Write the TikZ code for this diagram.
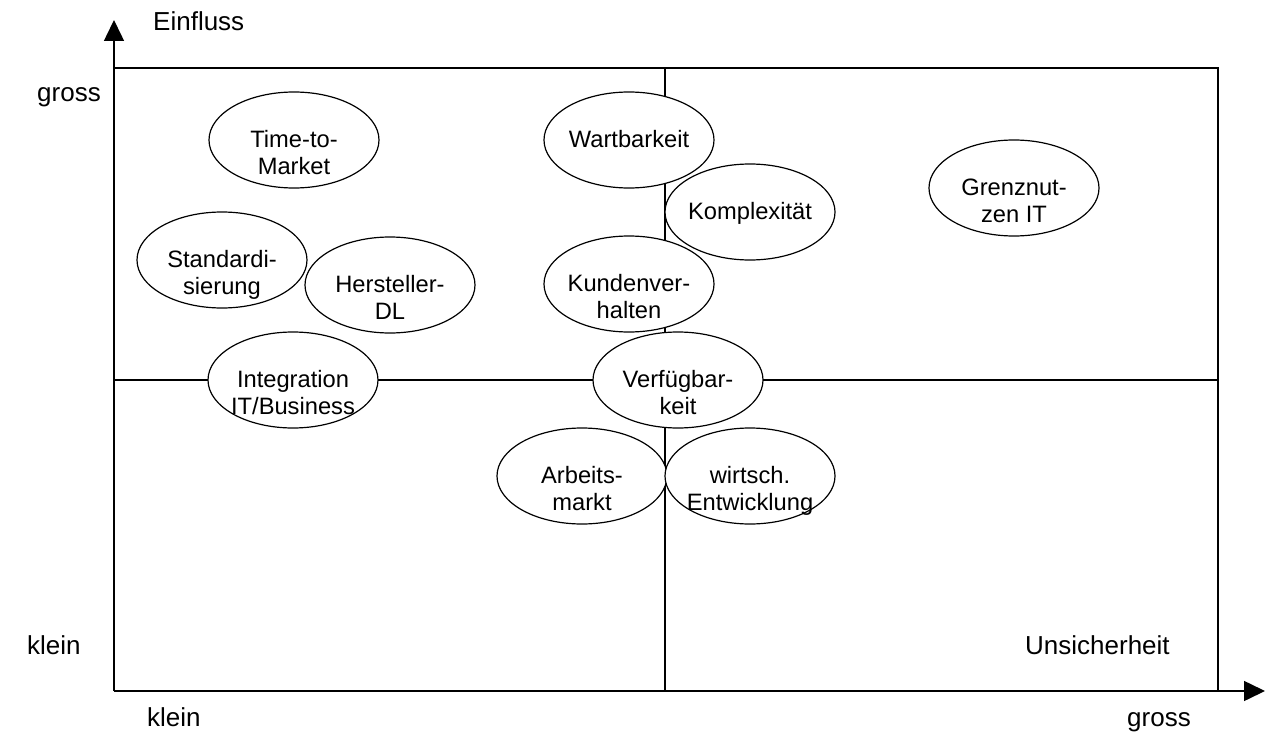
\documentclass[tikz,border=0pt]{standalone}
\usepackage{fontspec}
\setmainfont{Liberation Sans}
\usetikzlibrary{shapes.geometric,arrows.meta}
\newcommand\bubblefont{\fontsize{23.7}{27}\selectfont}
\newcommand\axisfont{\fontsize{26}{30}\selectfont}
\begin{document}
\begin{tikzpicture}[x=1pt,y=-1pt,
  frame/.style={line width=1.5pt},
  axis/.style={line width=1.5pt,-{Triangle[length=21pt,width=20pt]}},
  bubble/.style={ellipse,draw,fill=white,line width=1.2pt,
    minimum width=170pt,minimum height=96pt,inner sep=0pt},
  firstline/.style={font=\bubblefont,anchor=base,inner sep=0pt,yshift=-7.5pt},
  secondline/.style={font=\bubblefont,anchor=base,inner sep=0pt,yshift=-34.5pt},
  axislabel/.style={font=\axisfont,anchor=base west,inner sep=0pt}]
\useasboundingbox (0,0) rectangle (1266,733);

% corner points of the portfolio
\coordinate (O)  at (114,691);
\coordinate (TL) at (114,68);
\coordinate (TR) at (1218,68);
\coordinate (BR) at (1218,691);
\coordinate (Ytip) at (114,20);
\coordinate (Xtip) at (1265,691);
\coordinate (MT) at (665,68);
\coordinate (MB) at (665,691);
\coordinate (ML) at (114,380);
\coordinate (MR) at (1218,380);

% frame and quadrant lines
\draw[frame] (TL) -- (TR) -- (BR);
\draw[frame] (MT) -- (MB);
\draw[frame] (ML) -- (MR);

% axes
\draw[axis] (O) -- (Ytip);
\draw[axis] (O) -- (Xtip);

% axis labels
\node[axislabel] (lEinfluss) at (153,31) {Einfluss};
\node[axislabel] (lGrossY)   at (37,102) {gross};
\node[axislabel] (lKleinY)   at (27,654) {klein};
\node[axislabel] (lKleinX)   at (147,726) {klein};
\node[axislabel] (lGrossX)   at (1127,726) {gross};
\node[axislabel] (lUnsich)   at (1025,654) {Unsicherheit};

% factors
\node[bubble] (ttm)    at (294,140) {};
\node[bubble] (wart)   at (629,140) {};
\node[bubble] (kompl)  at (750,212) {};
\node[bubble] (grenz)  at (1014,188) {};
\node[bubble] (std)    at (222,260) {};
\node[bubble] (herst)  at (390,285) {};
\node[bubble] (kunden) at (629,284) {};
\node[bubble] (integ)  at (293,380) {};
\node[bubble] (verf)   at (678,380) {};
\node[bubble] (arb)    at (582,476) {};
\node[bubble] (wirt)   at (750,476) {};

% factor captions
\node[firstline]  (ttm1)    at (ttm.center)    {Time-to-};
\node[secondline] (ttm2)    at (ttm.center)    {Market};
\node[firstline]  (wart1)   at (wart.center)   {Wartbarkeit};
\node[firstline]  (kompl1)  at (kompl.center)  {Komplexität};
\node[firstline]  (grenz1)  at (grenz.center)  {Grenznut-};
\node[secondline] (grenz2)  at (grenz.center)  {zen IT};
\node[firstline]  (std1)    at (std.center)    {Standardi-};
\node[secondline] (std2)    at (std.center)    {sierung};
\node[firstline]  (herst1)  at (herst.center)  {Hersteller-};
\node[secondline] (herst2)  at (herst.center)  {DL};
\node[firstline]  (kunden1) at (kunden.center) {Kundenver-};
\node[secondline] (kunden2) at (kunden.center) {halten};
\node[firstline]  (integ1)  at (integ.center)  {Integration};
\node[secondline] (integ2)  at (integ.center)  {IT/Business};
\node[firstline]  (verf1)   at (verf.center)   {Verfügbar-};
\node[secondline] (verf2)   at (verf.center)   {keit};
\node[firstline]  (arb1)    at (arb.center)    {Arbeits-};
\node[secondline] (arb2)    at (arb.center)    {markt};
\node[firstline]  (wirt1)   at (wirt.center)   {wirtsch.};
\node[secondline] (wirt2)   at (wirt.center)   {Entwicklung};
\end{tikzpicture}
\end{document}
